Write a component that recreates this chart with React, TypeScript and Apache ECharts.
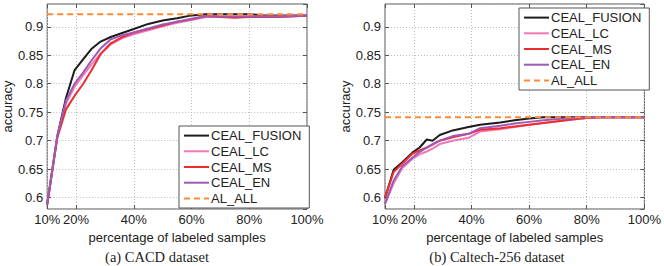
import React, { useEffect, useRef } from "react";
import * as echarts from "echarts";

// ---- data ----
const SERIES_NAMES = ["CEAL_FUSION", "CEAL_LC", "CEAL_MS", "CEAL_EN", "AL_ALL"];
const X_TICK_LABELS = ["10%", "20%", "40%", "60%", "80%", "100%"];

const X_CACD = [10, 13.5, 16.5, 19.5, 22.5, 25.5, 28.5, 32, 36, 40, 45, 50, 55, 60, 65, 70, 75, 80, 85, 90, 95, 100];
const CACD_FUSION = [0.588, 0.708, 0.775, 0.824, 0.843, 0.862, 0.874, 0.882, 0.889, 0.896, 0.905, 0.911, 0.915, 0.920, 0.922, 0.922, 0.922, 0.922, 0.920, 0.920, 0.920, 0.920];
const CACD_LC = [0.588, 0.707, 0.765, 0.795, 0.815, 0.835, 0.853, 0.869, 0.880, 0.887, 0.894, 0.901, 0.907, 0.912, 0.917, 0.917, 0.917, 0.918, 0.918, 0.918, 0.919, 0.920];
const CACD_MS = [0.588, 0.705, 0.755, 0.779, 0.800, 0.825, 0.852, 0.871, 0.882, 0.890, 0.896, 0.902, 0.909, 0.913, 0.919, 0.917, 0.916, 0.917, 0.917, 0.917, 0.918, 0.920];
const CACD_EN = [0.588, 0.708, 0.770, 0.800, 0.820, 0.842, 0.862, 0.878, 0.885, 0.890, 0.897, 0.904, 0.909, 0.914, 0.919, 0.918, 0.918, 0.918, 0.918, 0.918, 0.919, 0.920];
const CACD_AL_ALL_X = [10, 100];
const CACD_AL_ALL = [0.922, 0.922];

const X_CAL = [10, 13, 16, 19.5, 22, 24.5, 26.5, 29, 33.5, 39, 43, 50, 55, 60, 65, 70, 75, 80, 85, 90, 95, 100];
const CAL_FUSION = [0.599, 0.649, 0.662, 0.679, 0.688, 0.702, 0.700, 0.710, 0.718, 0.724, 0.728, 0.732, 0.736, 0.739, 0.741, 0.741, 0.741, 0.741, 0.741, 0.741, 0.741, 0.741];
const CAL_LC = [0.589, 0.625, 0.652, 0.668, 0.676, 0.681, 0.686, 0.694, 0.700, 0.705, 0.716, 0.720, 0.724, 0.728, 0.731, 0.734, 0.737, 0.740, 0.741, 0.741, 0.741, 0.741];
const CAL_MS = [0.600, 0.645, 0.660, 0.677, 0.683, 0.688, 0.693, 0.700, 0.706, 0.712, 0.719, 0.722, 0.725, 0.728, 0.731, 0.734, 0.737, 0.740, 0.741, 0.741, 0.741, 0.741];
const CAL_EN = [0.589, 0.630, 0.655, 0.670, 0.680, 0.688, 0.694, 0.700, 0.708, 0.712, 0.722, 0.726, 0.730, 0.733, 0.736, 0.738, 0.740, 0.741, 0.741, 0.741, 0.741, 0.741];
const CAL_AL_ALL_X = [10, 100];
const CAL_AL_ALL = [0.741, 0.741];

const CAPTIONS = ["(a) CACD dataset", "(b) Caltech-256 dataset"];

const COLORS = ["#1c1c1c", "#f07ab8", "#ee2d2d", "#9e5ab4", "#ff8a35"];
const FONT = "Liberation Sans, Arial, sans-serif";
const SERIF = "Liberation Serif, Times New Roman, serif";

function pairs(xs: number[], ys: number[]) {
  return xs.map((x, i) => [x, ys[i]]);
}

export default function App() {
  const ref = useRef<HTMLDivElement>(null);
  useEffect(() => {
    if (!ref.current) return;
    const chart = echarts.init(ref.current, undefined, { renderer: "svg" });

    const grids = [
      { left: 46, top: 4, width: 261, height: 205 },
      { left: 385, top: 4, width: 262, height: 205 },
    ];

    const xAxes: any[] = [];
    const yAxes: any[] = [];
    grids.forEach((_, gi) => {
      xAxes.push({
        type: "value",
        gridIndex: gi,
        position: "bottom",
        min: 10,
        max: 100,
        minInterval: 20,
        maxInterval: 20,
        splitNumber: 5,
        name: "percentage of labeled samples",
        nameLocation: "middle",
        nameGap: 17,
        nameTextStyle: { fontFamily: FONT, fontSize: 13, color: "#222" },
        axisLine: { show: false },
        axisTick: { show: true, inside: true, length: 4, lineStyle: { color: "#555" } },
        axisLabel: {
          fontFamily: FONT,
          fontSize: 13,
          color: "#222",
          margin: 4,
          formatter: (v: number) => {
            const idx = [10, 20, 40, 60, 80, 100].indexOf(v);
            return idx >= 0 ? X_TICK_LABELS[idx] : "";
          },
        },
        splitLine: { show: true, lineStyle: { color: "#bdbdbd", type: [1, 2], width: 1 } },
      });
      xAxes.push({
        type: "value",
        gridIndex: gi,
        position: "top",
        min: 10,
        max: 100,
        minInterval: 20,
        maxInterval: 20,
        splitNumber: 5,
        axisLine: { show: false },
        axisTick: { show: true, inside: true, length: 4, lineStyle: { color: "#555" } },
        axisLabel: { show: false },
        splitLine: { show: false },
      });
      yAxes.push({
        type: "value",
        gridIndex: gi,
        position: "left",
        min: 0.58,
        max: 0.94,
        minInterval: 0.05,
        maxInterval: 0.05,
        splitNumber: 7,
        name: "accuracy",
        nameLocation: "middle",
        nameGap: 32,
        nameRotate: 90,
        nameTextStyle: { fontFamily: FONT, fontSize: 13, color: "#222" },
        axisLine: { show: false },
        axisTick: { show: true, inside: true, length: 4, lineStyle: { color: "#555" } },
        axisLabel: {
          fontFamily: FONT,
          fontSize: 13,
          color: "#222",
          margin: 4,
          showMinLabel: false,
          showMaxLabel: false,
        },
        splitLine: { show: true, lineStyle: { color: "#bdbdbd", type: [1, 2], width: 1 } },
      });
      yAxes.push({
        type: "value",
        gridIndex: gi,
        position: "right",
        min: 0.58,
        max: 0.94,
        minInterval: 0.05,
        maxInterval: 0.05,
        splitNumber: 7,
        axisLine: { show: false },
        axisTick: { show: true, inside: true, length: 4, lineStyle: { color: "#555" } },
        axisLabel: { show: false },
        splitLine: { show: false },
      });
    });

    const datasets = [
      { x: X_CACD, ys: [CACD_FUSION, CACD_LC, CACD_MS, CACD_EN], alx: CACD_AL_ALL_X, al: CACD_AL_ALL },
      { x: X_CAL, ys: [CAL_FUSION, CAL_LC, CAL_MS, CAL_EN], alx: CAL_AL_ALL_X, al: CAL_AL_ALL },
    ];

    const series: any[] = [];
    datasets.forEach((d, gi) => {
      d.ys.forEach((ys, si) => {
        series.push({
          type: "line",
          name: SERIES_NAMES[si],
          xAxisIndex: gi * 2,
          yAxisIndex: gi * 2,
          data: pairs(d.x, ys),
          symbol: "none",
          lineStyle: { color: COLORS[si], width: 2 },
          itemStyle: { color: COLORS[si] },
          z: 2 + si,
        });
      });
      series.push({
        type: "line",
        name: SERIES_NAMES[4],
        xAxisIndex: gi * 2,
        yAxisIndex: gi * 2,
        data: pairs(d.alx, d.al),
        symbol: "none",
        lineStyle: { color: COLORS[4], width: 2, type: [6, 4] },
        itemStyle: { color: COLORS[4] },
        z: 7,
      });
    });

    const legendCommon = {
      orient: "vertical",
      data: SERIES_NAMES,
      itemWidth: 25,
      itemHeight: 14,
      itemGap: 1.7,
      itemStyle: { opacity: 0 },
      textStyle: { fontFamily: FONT, fontSize: 13, color: "#222", lineHeight: 14, padding: [0, 0, 0, -3] },
      backgroundColor: "#fff",
      borderColor: "#555",
      borderWidth: 1,
      borderRadius: 0,
      padding: [2.6, 8, 2.6, 4],
      selectedMode: false,
    };

    chart.setOption({
      animation: false,
      grid: grids.map((g) => ({ ...g, show: true, borderColor: "#555", borderWidth: 1, backgroundColor: "transparent" })),
      xAxis: xAxes,
      yAxis: yAxes,
      legend: [
        { ...legendCommon, left: 179, top: 126 },
        { ...legendCommon, left: 519, top: 8 },
      ],
      series,
      graphic: [
        {
          type: "text",
          x: 157,
          y: 257,
          style: { text: CAPTIONS[0], font: `14.5px ${SERIF}`, fill: "#222", textAlign: "center", textVerticalAlign: "middle" },
        },
        {
          type: "text",
          x: 497,
          y: 257,
          style: { text: CAPTIONS[1], font: `14.5px ${SERIF}`, fill: "#222", textAlign: "center", textVerticalAlign: "middle" },
        },
      ],
    });
    return () => chart.dispose();
  }, []);
  return (
    <div
      ref={ref}
      style={{ position: "fixed", left: 0, top: 0, width: 664, height: 266, background: "#fff" }}
    />
  );
}
